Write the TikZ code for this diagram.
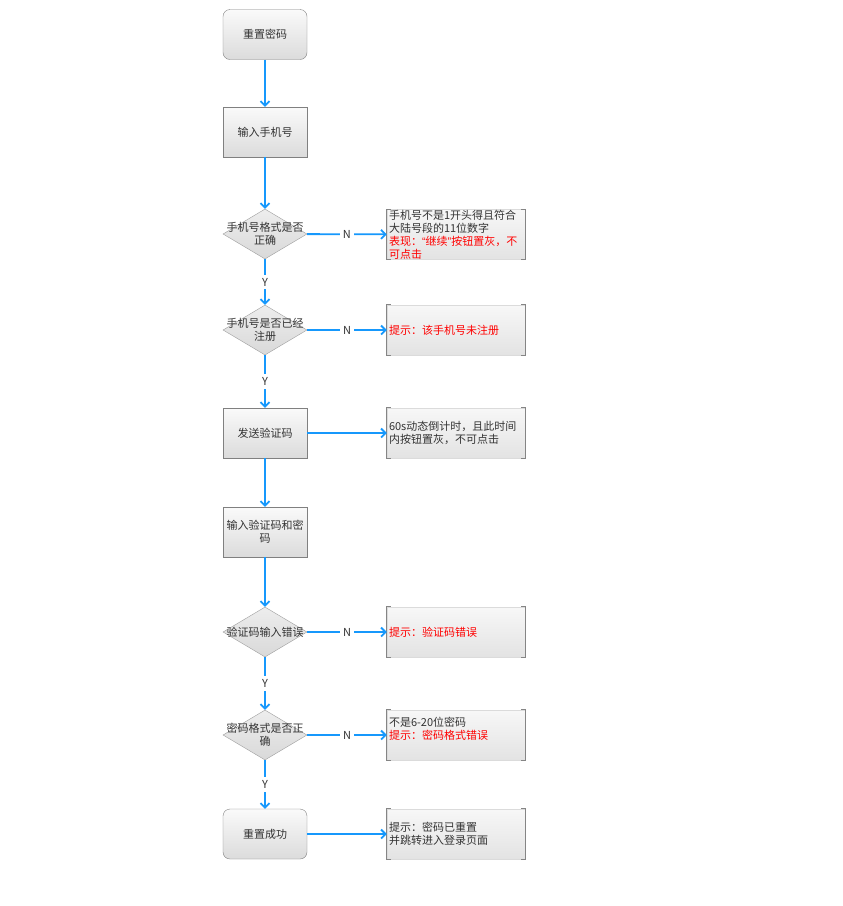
\documentclass[tikz,border=0pt]{standalone}
\usepackage{fontspec}
\setmainfont{Noto Sans CJK SC}
\newfontfamily\latinq{Liberation Sans}
\usetikzlibrary{shapes.geometric,arrows.meta}
\definecolor{flowblue}{RGB}{22,152,252}
\definecolor{txtgray}{RGB}{51,51,51}
\definecolor{edgegray}{RGB}{128,128,128}
\definecolor{notered}{RGB}{255,0,0}
\tikzset{
  base/.style={font=\fontsize{11}{13}\selectfont, text=txtgray},
  process/.style={base, draw=edgegray, top color=white!98!black, bottom color=white!86!black,
    minimum width=84pt, minimum height=50pt, align=center, inner sep=1pt},
  terminal/.style={process, rounded corners=7pt},
  decision/.style={diamond, draw=white!62!black, top color=white!93!black, bottom color=white!85!black,
    minimum width=84pt, minimum height=50pt, inner sep=0pt},
  dlabel/.style={base, align=center, inner sep=0pt},
  note/.style={base, draw=white!86!black, top color=white!97!black, bottom color=white!89!black,
    minimum width=138pt, minimum height=50pt, text width=134pt, align=left, inner xsep=2pt, inner ysep=0pt},
  bracket/.style={draw=white!52!black, line width=0.8pt},
  flow/.style={draw=flowblue, line width=1.8pt, -{Straight Barb[length=4.5pt,width=9pt]}},
  yn/.style={base, fill=white, inner sep=3pt, midway},
}
\begin{document}
\begin{tikzpicture}[x=1pt, y=-1pt]
  \useasboundingbox[fill=white] (0,0) rectangle (843,906);
  % main column
  \node[terminal] (start) at (265,34.5) {重置密码};
  \node[process] (phone) at (265,132) {输入手机号};
  \node[decision, label={[dlabel]center:{手机号格式是否\\正确}}] (fmt) at (265,234) {};
  \node[decision, label={[dlabel]center:{手机号是否已经\\注册}}] (reg) at (265,330) {};
  \node[process] (send) at (265,433) {发送验证码};
  \node[process] (input) at (265,532) {输入验证码和密\\码};
  \node[decision, label={[dlabel]center:{验证码输入错误}}] (code) at (265,632) {};
  \node[decision, label={[dlabel]center:{密码格式是否正\\确}}] (pwd) at (265,735) {};
  \node[terminal] (done) at (265,834) {重置成功};
  % notes on the right
  \node[note] (n1) at (456,234.5) {手机号不是1开头得且符合\\大陆号段的11位数字\\\textcolor{notered}{表现：{\latinq “}继续{\latinq ”}按钮置灰，不}\\\textcolor{notered}{可点击}};
  \node[note] (n2) at (456,330) {\textcolor{notered}{提示：该手机号未注册}};
  \node[note] (n3) at (456,433) {60s动态倒计时，且此时间\\内按钮置灰，不可点击};
  \node[note] (n4) at (456,632) {\textcolor{notered}{提示：验证码错误}};
  \node[note] (n5) at (456,735) {不是6-20位密码\\\textcolor{notered}{提示：密码格式错误}\\\mbox{}};
  \node[note] (n6) at (456,834) {提示：密码已重置\\并跳转进入登录页面};
  \foreach \n in {n1,n2,n3,n4,n5,n6} {
    \draw[bracket] ([xshift=4pt]\n.north west) -- (\n.north west) -- (\n.south west) -- ([xshift=4pt]\n.south west);
    \draw[bracket] ([xshift=-4pt]\n.north east) -- (\n.north east) -- (\n.south east) -- ([xshift=-4pt]\n.south east);
  }
  % connectors
  \draw[flow] (start) -- (phone);
  \draw[flow] (phone) -- (fmt);
  \draw[flow] (fmt) -- node[yn] {Y} (reg);
  \draw[flow] (reg) -- node[yn] {Y} (send);
  \draw[flow] (send) -- (input);
  \draw[flow] (input) -- (code);
  \draw[flow] (code) -- node[yn] {Y} (pwd);
  \draw[flow] (pwd) -- node[yn] {Y} (done);
  \draw[flow] (fmt) -- node[yn] {N} (n1);
  \draw[flow] (reg) -- node[yn] {N} (n2);
  \draw[flow] (send) -- (n3);
  \draw[flow] (code) -- node[yn] {N} (n4);
  \draw[flow] (pwd) -- node[yn] {N} (n5);
  \draw[flow] (done) -- (n6);
\end{tikzpicture}
\end{document}
